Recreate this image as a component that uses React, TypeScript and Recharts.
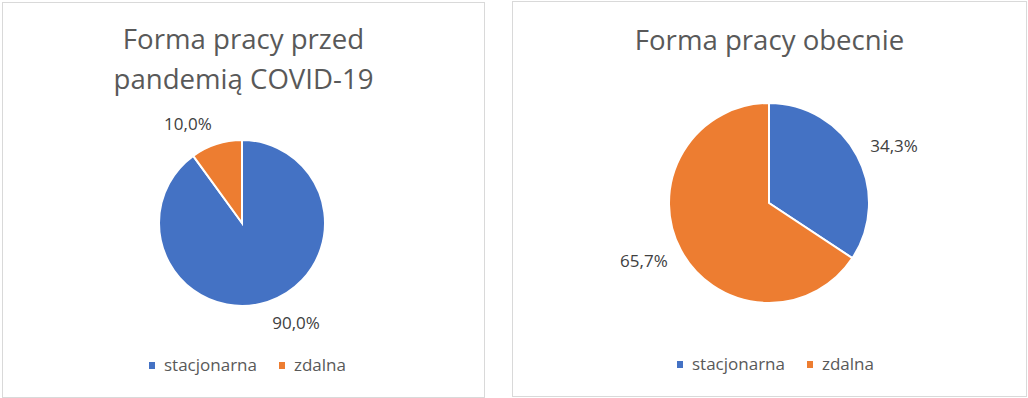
import React from 'react';
import { PieChart, Pie, Cell } from 'recharts';

const categories = ['stacjonarna', 'zdalna'];
const colors = ['#4472C4', '#ED7D31'];
const beforeValues = [90.0, 10.0];
const currentValues = [34.3, 65.7];
const beforeTitle = ['Forma pracy przed', 'pandemią COVID-19'];
const currentTitle = ['Forma pracy obecnie'];

const FONT = '"Open Sans", sans-serif';

const fmt = (v: number) => v.toFixed(1).replace('.', ',') + '%';

const renderLabel = (props: any) => {
  const { cx, cy, midAngle, outerRadius, value } = props;
  const RAD = Math.PI / 180;
  const c = Math.cos(midAngle * RAD);
  const s = Math.sin(midAngle * RAD);
  const d = outerRadius + 15;
  const x = cx + d * c;
  const y = cy - d * s - s * 7;
  return (
    <text
      x={x}
      y={y}
      textAnchor={c >= 0 ? 'start' : 'end'}
      dominantBaseline="central"
      fill="#404040"
      fontSize={17}
      fontFamily={FONT}
    >
      {fmt(value)}
    </text>
  );
};

type PanelProps = {
  left: number;
  top: number;
  width: number;
  height: number;
  title: string[];
  values: number[];
  cx: number;
  cy: number;
  r: number;
  titleTop: number;
  legendTop: number;
  legendShift: number;
};

function Panel(p: PanelProps) {
  const innerW = p.width - 2;
  const innerH = p.height - 2;
  const data = categories.map((name, i) => ({ name, value: p.values[i] }));
  return (
    <div
      style={{
        position: 'absolute',
        left: p.left,
        top: p.top,
        width: p.width,
        height: p.height,
        boxSizing: 'border-box',
        border: '1px solid #d9d9d9',
        background: '#fff',
      }}
    >
      <div
        style={{
          position: 'absolute',
          left: 0,
          top: p.titleTop,
          width: innerW,
          textAlign: 'center',
          fontFamily: FONT,
          fontSize: 27.6,
          lineHeight: '40px',
          color: '#595959',
        }}
      >
        {p.title.map((t, i) => (
          <div key={i}>{t}</div>
        ))}
      </div>
      <div style={{ position: 'absolute', left: 0, top: 0 }}>
        <PieChart width={innerW} height={innerH} margin={{ top: 0, right: 0, bottom: 0, left: 0 }}>
          <Pie
            data={data}
            dataKey="value"
            nameKey="name"
            cx={p.cx}
            cy={p.cy}
            outerRadius={p.r}
            startAngle={90}
            endAngle={-270}
            stroke="#ffffff"
            strokeWidth={2}
            label={renderLabel}
            labelLine={false}
            isAnimationActive={false}
          >
            {data.map((d, i) => (
              <Cell key={d.name} fill={colors[i]} />
            ))}
          </Pie>
        </PieChart>
      </div>
      <div
        style={{
          position: 'absolute',
          left: p.legendShift,
          top: p.legendTop,
          width: innerW,
          display: 'flex',
          justifyContent: 'center',
          alignItems: 'center',
          fontFamily: FONT,
          fontSize: 17,
          lineHeight: '24px',
          color: '#595959',
        }}
      >
        {categories.map((name, i) => (
          <div key={name} style={{ display: 'flex', alignItems: 'center', marginRight: i === 0 ? 22 : 0 }}>
            <span
              style={{
                display: 'inline-block',
                width: 6,
                height: 7,
                background: colors[i],
                marginRight: 9,
              }}
            />
            <span>{name}</span>
          </div>
        ))}
      </div>
    </div>
  );
}

export default function App() {
  return (
    <div
      style={{
        position: 'absolute',
        left: 0,
        top: 0,
        width: 1028,
        height: 398,
        background: '#ffffff',
        overflow: 'hidden',
      }}
    >
      <Panel
        left={2}
        top={2}
        width={483}
        height={396}
        title={beforeTitle}
        values={beforeValues}
        cx={239}
        cy={220}
        r={83}
        titleTop={15}
        legendTop={350}
        legendShift={4}
      />
      <Panel
        left={512}
        top={1}
        width={515}
        height={396}
        title={currentTitle}
        values={currentValues}
        cx={256}
        cy={201}
        r={100}
        titleTop={17}
        legendTop={350}
        legendShift={6}
      />
    </div>
  );
}
